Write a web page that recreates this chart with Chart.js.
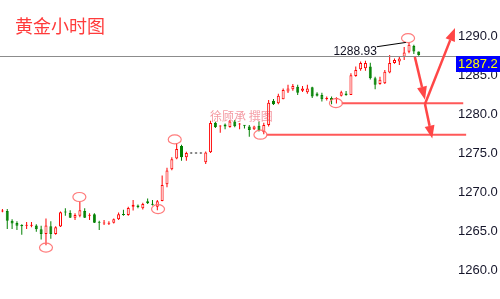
<!DOCTYPE html>
<html lang="zh">
<head>
<meta charset="UTF-8">
<title>黄金小时图</title>
<script src="https://cdn.jsdelivr.net/npm/chart.js"></script>
<style>
  body { margin: 0; background: #fff; }
</style>
</head>
<body>
<canvas id="myChart" width="500" height="299"></canvas>
<script>
// hourly candles
const opens  = [1267.55,1267.60,1266.35,1266.05,1265.80,1265.70,1265.70,1265.75,1265.25,1264.65,
                1265.65,1264.65,1265.60,1267.50,1267.35,1266.75,1267.00,1267.60,1267.00,1267.20,
                1266.20,1266.00,1265.95,1266.10,1266.55,1267.15,1267.10,1268.15,1268.30,1267.95,
                1268.85,1268.50,1268.15,1268.90,1271.05,1272.95,1274.35,1275.95,1274.50,1275.00,
                1275.00,1275.00,1273.85,1275.15,1278.95,1278.45,1278.70,1278.40,1279.10,1278.70,
                1278.60,1278.45,1278.10,1278.55,1277.70,1278.65,1281.75,1281.45,1281.95,1282.95,
                1283.25,1283.55,1283.05,1282.85,1283.50,1282.70,1282.50,1282.00,1282.10,1282.00,
                1282.40,1282.70,1282.50,1284.95,1285.80,1285.95,1286.15,1284.65,1283.90,1284.00,
                1285.40,1286.60,1286.80,1287.40,1288.05,1288.80,1288.10];
const highs  = [1267.85,1267.85,1266.55,1266.30,1265.90,1266.20,1266.20,1265.90,1265.70,1266.65,
                1266.30,1265.65,1267.55,1267.95,1267.70,1267.30,1268.80,1267.95,1267.30,1267.30,
                1266.35,1266.45,1266.30,1266.65,1267.40,1267.75,1268.15,1269.00,1268.45,1268.65,
                1269.20,1269.00,1269.00,1272.15,1273.15,1274.50,1276.30,1276.10,1275.20,1275.00,
                1275.00,1275.00,1275.25,1279.20,1279.05,1278.60,1278.85,1279.30,1279.30,1278.90,
                1278.65,1278.65,1278.55,1279.10,1278.95,1281.85,1282.00,1282.65,1283.35,1283.80,
                1283.90,1283.80,1283.65,1283.80,1283.55,1282.85,1282.80,1282.30,1282.30,1282.20,
                1283.05,1283.00,1285.30,1286.15,1286.80,1286.90,1286.65,1284.85,1284.85,1285.70,
                1287.65,1287.20,1287.50,1288.65,1289.25,1288.95,1288.10];
const lows   = [1267.45,1265.30,1265.30,1265.15,1264.55,1265.30,1265.50,1264.95,1263.95,1263.20,
                1264.05,1264.55,1265.55,1267.00,1266.70,1266.45,1266.80,1266.70,1266.45,1266.05,
                1265.15,1265.80,1265.80,1266.00,1266.45,1267.00,1267.00,1267.65,1267.95,1267.80,
                1268.50,1268.30,1267.70,1268.85,1270.65,1272.85,1274.25,1274.05,1274.05,1275.00,
                1275.00,1275.00,1273.65,1275.05,1278.25,1277.65,1278.10,1278.30,1278.35,1278.10,
                1278.20,1277.15,1278.00,1277.80,1277.45,1278.45,1281.20,1281.30,1281.95,1282.75,
                1283.05,1282.50,1282.90,1282.65,1282.10,1282.30,1281.65,1281.80,1281.30,1281.40,
                1282.30,1282.40,1282.50,1284.85,1285.60,1285.60,1284.50,1283.25,1283.80,1283.90,
                1285.30,1286.50,1286.35,1287.00,1287.85,1287.75,1287.55];
const closes = [1267.65,1266.35,1266.00,1265.70,1265.65,1265.80,1265.85,1265.25,1264.65,1265.75,
                1264.65,1265.50,1267.45,1267.40,1266.75,1267.10,1267.70,1266.75,1267.10,1266.10,
                1266.10,1266.10,1266.05,1266.55,1267.20,1267.10,1268.00,1268.40,1268.10,1268.50,
                1268.60,1268.40,1268.85,1270.95,1272.80,1274.25,1275.55,1274.50,1275.05,1275.00,
                1275.00,1275.00,1275.10,1278.90,1278.40,1278.55,1278.45,1279.10,1278.50,1278.80,
                1278.55,1278.00,1278.45,1278.00,1278.65,1281.50,1281.30,1282.40,1283.15,1283.35,
                1283.65,1282.80,1283.35,1283.35,1282.30,1282.40,1281.95,1282.10,1281.85,1282.10,
                1282.85,1282.50,1285.05,1285.70,1286.60,1286.60,1284.65,1283.80,1284.45,1285.50,
                1286.60,1287.00,1287.20,1287.95,1288.95,1288.10,1287.65];

const slotCount = 94;                 // candle slots across the plot, incl. empty right margin
const priceTicks = [1260, 1265, 1270, 1275, 1280, 1285, 1290];
const lastPrice = 1287.55;
const lastPriceLabel = '1287.2';
const markedPrice = '1288.93';

// marked highs / lows (slot index, price)
const circles = [[9, 1262.9], [15.9, 1269.4], [32.15, 1267.85], [35.6, 1276.8],
                 [53.3, 1277.4], [68.9, 1281.45], [83.8, 1289.8]];
// support lines [fromSlot, toSlot, price]
const levels = [[70.1, 95.2, 1281.45], [54.6, 95.8, 1277.4]];
// arrows [fromSlot, fromPrice, toSlot, toPrice]
const arrows = [[85.2, 1287.4, 87.3, 1281.9], [87.3, 1281.35, 93.5, 1291.1], [87.3, 1281.35, 88.8, 1276.9]];

const RED = '#ff0000', GREEN = '#008000';
const candleColor = opens.map((o, i) => closes[i] > opens[i] ? RED : closes[i] < opens[i] ? GREEN
                              : (highs[i] === lows[i] ? '#000' : RED));

const labels = Array.from({length: slotCount}, (_, i) => String(i));

const overlay = {
  id: 'overlay',
  afterDatasetsDraw(chart) {
    const {ctx, chartArea, scales: {x, y}} = chart;
    const px = (i) => x.getPixelForValue(i);
    const py = (v) => y.getPixelForValue(v);
    ctx.save();

    // last price line + label
    const ly = Math.round(py(lastPrice));
    ctx.strokeStyle = '#8c8c8c';
    ctx.lineWidth = 1;
    ctx.beginPath();
    ctx.moveTo(chartArea.left, ly + 0.5);
    ctx.lineTo(chartArea.right + 1, ly + 0.5);
    ctx.stroke();
    ctx.fillStyle = '#0000ff';
    ctx.fillRect(chartArea.right + 1, ly, 45, 16);
    ctx.fillStyle = '#ffff00';
    ctx.font = '13px "Liberation Sans", Arial, sans-serif';
    ctx.textBaseline = 'middle';
    ctx.textAlign = 'left';
    ctx.fillText(lastPriceLabel, chartArea.right + 3, ly + 8);

    // support lines
    ctx.strokeStyle = 'rgba(255, 70, 70, 0.9)';
    ctx.lineWidth = 2;
    levels.forEach(([a, b, v]) => {
      ctx.beginPath();
      ctx.moveTo(px(a), py(v));
      ctx.lineTo(px(b), py(v));
      ctx.stroke();
    });

    // circles
    ctx.strokeStyle = 'rgba(255, 110, 110, 0.9)';
    ctx.lineWidth = 1.2;
    circles.forEach(([i, v]) => {
      ctx.beginPath();
      ctx.ellipse(px(i), py(v), 6.5, 4.5, 0, 0, Math.PI * 2);
      ctx.stroke();
    });

    // arrows
    ctx.strokeStyle = '#ff4646';
    ctx.fillStyle = '#ff4646';
    arrows.forEach(([a, va, b, vb]) => {
      const x0 = px(a), y0 = py(va), x1 = px(b), y1 = py(vb);
      const ang = Math.atan2(y1 - y0, x1 - x0);
      const hl = 13, hw = 5;
      const bx = x1 - hl * Math.cos(ang), by = y1 - hl * Math.sin(ang);
      ctx.lineWidth = 2.5;
      ctx.beginPath();
      ctx.moveTo(x0, y0);
      ctx.lineTo(bx, by);
      ctx.stroke();
      ctx.beginPath();
      ctx.moveTo(x1, y1);
      ctx.lineTo(bx + hw * Math.sin(ang), by - hw * Math.cos(ang));
      ctx.lineTo(bx - hw * Math.sin(ang), by + hw * Math.cos(ang));
      ctx.closePath();
      ctx.fill();
    });

    // price marker
    ctx.strokeStyle = '#000';
    ctx.lineWidth = 1;
    ctx.beginPath();
    ctx.moveTo(px(77.35), py(1288.7));
    ctx.lineTo(px(83.35), py(1289.25));
    ctx.stroke();
    ctx.fillStyle = '#101020';
    ctx.font = '12px "Liberation Sans", Arial, sans-serif';
    ctx.textAlign = 'right';
    ctx.fillText(markedPrice, px(77.35), py(1288.05));

    // title and signature
    ctx.textAlign = 'left';
    ctx.textBaseline = 'alphabetic';
    ctx.fillStyle = '#ff3b3b';
    ctx.font = '18px "Noto Sans CJK SC", sans-serif';
    ctx.fillText('黄金小时图', 15, 33);
    ctx.fillStyle = 'rgba(235, 70, 85, 0.55)';
    ctx.font = '12px "Noto Sans CJK SC", sans-serif';
    ctx.fillText('徐顾承 撰图', 210, 121);
    ctx.restore();
  }
};

const ctx = document.getElementById('myChart').getContext('2d');
new Chart(ctx, {
  type: 'bar',
  data: {
    labels: labels,
    datasets: [
      {
        label: 'body',
        data: opens.map((o, i) => [o, closes[i]]),
        backgroundColor: candleColor.map(c => c === RED ? '#ffffff' : c),
        borderColor: candleColor,
        borderWidth: 1,
        borderSkipped: false,
        barThickness: 3,
        minBarLength: 1,
        inflateAmount: 0,
        grouped: false,
        order: 0
      },
      {
        label: 'wick',
        data: lows.map((l, i) => [l, highs[i]]),
        backgroundColor: candleColor,
        borderWidth: 0,
        barThickness: 1,
        minBarLength: 1,
        inflateAmount: 0,
        grouped: false,
        order: 1
      }
    ]
  },
  options: {
    responsive: false,
    animation: false,
    layout: { padding: 0 },
    plugins: { legend: { display: false }, tooltip: { enabled: false }, title: { display: false } },
    scales: {
      x: { type: 'category', display: false, offset: true, grid: { display: false } },
      y: {
        position: 'right',
        min: 1256.3,
        max: 1294.7,
        grid: { display: false, drawTicks: false },
        border: { display: false },
        afterBuildTicks: (scale) => { scale.ticks = priceTicks.map(v => ({ value: v })); },
        afterFit: (scale) => {
          scale.width = 45;
          scale.paddingTop = 0;
          scale.paddingBottom = 0;
        },
        ticks: {
          padding: 3,
          color: '#15152a',
          font: { family: '"Liberation Sans", Arial, sans-serif', size: 13 },
          callback: (v) => Number(v).toFixed(1)
        }
      }
    }
  },
  plugins: [overlay]
});
</script>
</body>
</html>
